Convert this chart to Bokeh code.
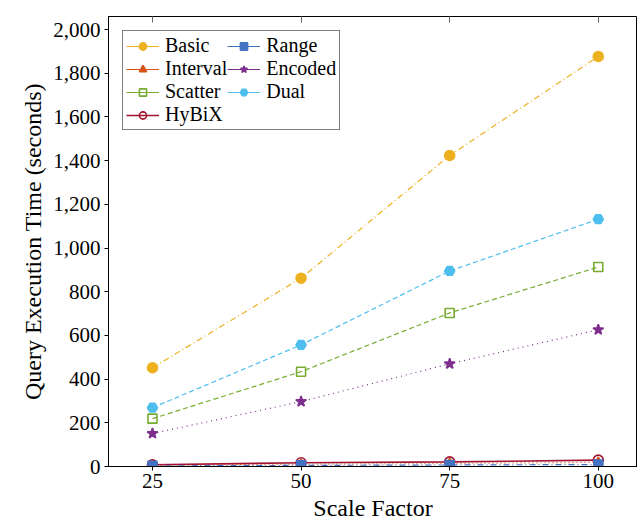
from bokeh.plotting import figure
from bokeh.models import (Legend, LegendItem, NumeralTickFormatter, FixedTicker, Range1d,
                          LinearAxis, CustomJSTickFormatter)
from bokeh.embed import file_html
from bokeh.resources import INLINE

scale = [25, 50, 75, 100]
basic = [452, 862, 1424, 1877]
interval = [6, 10, 14, 19]
scatter = [219, 434, 703, 913]
hybix = [8, 17, 21, 29]
range_ = [3, 5, 7, 9]
encoded = [151, 297, 470, 626]
dual = [269, 557, 895, 1132]
y_ticks = list(range(0, 2001, 200))

FONT = "Liberation Serif"
NAN = float("nan")

p = figure(width=637, height=523, output_backend="svg", toolbar_location=None,
           x_range=Range1d(17.6, 106.6), y_range=Range1d(0, 2060))
p.min_border_left = 108
p.min_border_right = 0
p.min_border_top = 16
p.min_border_bottom = 56
p.xgrid.visible = False
p.ygrid.visible = False
p.outline_line_color = "black"
p.outline_line_width = 1
p.background_fill_color = "white"
p.border_fill_color = "white"

for ax in (p.xaxis[0], p.yaxis[0]):
    ax.axis_line_color = "black"
    ax.major_tick_line_color = "black"
    ax.major_tick_in = 0
    ax.major_tick_out = 4
    ax.minor_tick_line_color = None
    ax.major_label_text_font = FONT
    ax.major_label_text_font_size = "21px"
    ax.major_label_text_color = "black"
    ax.axis_label_text_font = FONT
    ax.axis_label_text_font_size = "24px"
    ax.axis_label_text_font_style = "normal"
    ax.axis_label_text_color = "black"

p.xaxis.ticker = FixedTicker(ticks=scale)
p.yaxis.ticker = FixedTicker(ticks=y_ticks)
p.yaxis.formatter = NumeralTickFormatter(format="0,0")
p.xaxis.axis_label = "Scale Factor"
p.yaxis.axis_label = "Query Execution Time (seconds)"
p.xaxis.major_label_standoff = 3
p.yaxis.major_label_standoff = 4
p.xaxis.axis_label_standoff = 4
p.yaxis.axis_label_standoff = 4

top = LinearAxis(ticker=FixedTicker(ticks=scale),
                 formatter=CustomJSTickFormatter(code="return ''"),
                 major_tick_in=6, major_tick_out=0, major_label_standoff=0,
                 minor_tick_line_color=None, axis_line_color=None,
                 major_tick_line_color="#666666")
p.add_layout(top, "above")

series = [
    ("Basic", basic, "#EDB120", "6 3 1 3", "circle", 10, "#EDB120"),
    ("Interval", interval, "#D95319", "1 3", "triangle", 9, "#D95319"),
    ("Scatter", scatter, "#77AC30", "5 3", "square", 9, None),
    ("HyBiX", hybix, "#A2142F", "solid", "circle", 10, None),
    ("Range", range_, "#4472C4", "6 3 1 3", "square", 9, "#4472C4"),
    ("Encoded", encoded, "#7E2F8E", "1 4", "star", 11, "#7E2F8E"),
    ("Dual", dual, "#4DBEEE", "5 3", "hex", 10, "#4DBEEE"),
]

items = []
for name, ys, color, dash, marker, size, fill in series:
    lw = 1.6 if name == "HyBiX" else 1.2
    r1 = p.line(scale, ys, line_color=color, line_dash=dash, line_width=lw)
    r2 = p.scatter(scale, ys, marker=marker, size=size, line_color=color,
                   fill_color=fill if fill else "white", fill_alpha=1.0 if fill else 0.0,
                   line_width=1.6)
    # legend proxy: a NaN-only line of the same colour (nothing drawn in the plot)
    proxy = p.line(x=[NAN, NAN], y=[NAN, NAN], line_color=color, line_width=lw)
    items.append(LegendItem(label=name, renderers=[proxy, r2]))

lg = Legend(items=items, location="top_left", ncols=2)
lg.label_text_font = FONT
lg.label_text_font_size = "20px"
lg.label_text_font_style = "normal"
lg.label_text_color = "black"
lg.border_line_color = "black"
lg.border_line_width = 1
lg.background_fill_color = "white"
lg.background_fill_alpha = 1.0
lg.glyph_width = 33
lg.glyph_height = 18
lg.label_standoff = 6
lg.spacing = 0
lg.padding = 3
lg.margin = 14
lg.label_height = 18
p.add_layout(lg)

open("out.html", "w").write(file_html(p, INLINE))
